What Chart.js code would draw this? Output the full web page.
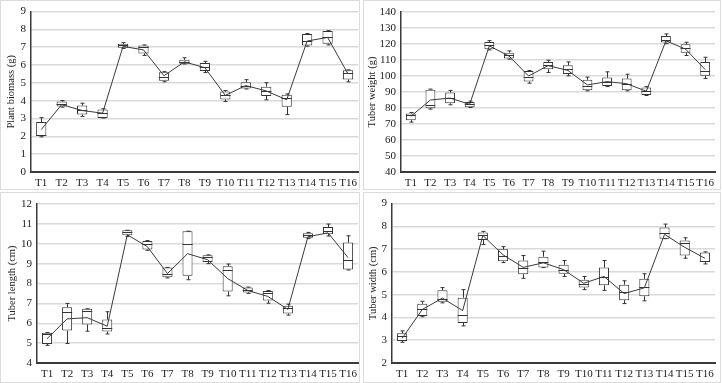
<!DOCTYPE html>
<html>
<head>
<meta charset="utf-8">
<script src="https://cdn.jsdelivr.net/npm/chart.js@4"></script>
<style>
  html, body { margin: 0; padding: 0; background: #ffffff; }
  body { width: 722px; height: 383px; position: relative; overflow: hidden; }
  .frame { position: absolute; border: 1px solid #dcdcdc; box-sizing: border-box; }
  .wrap { position: absolute; }
  canvas { display: block; }
</style>
</head>
<body>
<div class="frame" style="left:0;top:0;width:360px;height:190px"></div>
<div class="frame" style="left:363px;top:0;width:358px;height:190px"></div>
<div class="frame" style="left:0;top:192px;width:360px;height:191px"></div>
<div class="frame" style="left:363px;top:192px;width:358px;height:191px"></div>

<div class="wrap" style="left:0;top:0;width:362px;height:190px"><canvas id="c1"></canvas></div>
<div class="wrap" style="left:363px;top:0;width:359px;height:190px"><canvas id="c2"></canvas></div>
<div class="wrap" style="left:0;top:192px;width:362px;height:191px"><canvas id="c3"></canvas></div>
<div class="wrap" style="left:363px;top:192px;width:359px;height:191px"><canvas id="c4"></canvas></div>

<script>
// ---------- DATA ----------
const categories = ['T1','T2','T3','T4','T5','T6','T7','T8','T9','T10','T11','T12','T13','T14','T15','T16'];

// Plant biomass (g)
const biomassMin    = [1.97, 3.64, 3.12, 3.03, 6.93, 6.54, 5.06, 6.06, 5.58, 3.96, 4.66, 4.05, 3.22, 7.06, 7.13, 5.06];
const biomassQ1     = [2.02, 3.68, 3.22, 3.03, 6.97, 6.65, 5.12, 6.08, 5.67, 4.07, 4.69, 4.27, 3.66, 7.10, 7.19, 5.19];
const biomassMedian = [2.10, 3.80, 3.49, 3.30, 7.10, 7.00, 5.34, 6.17, 5.88, 4.33, 4.82, 4.57, 4.15, 7.37, 7.58, 5.53];
const biomassQ3     = [2.80, 3.95, 3.73, 3.51, 7.19, 7.10, 5.60, 6.30, 6.12, 4.51, 5.03, 4.79, 4.33, 7.75, 7.91, 5.71];
const biomassMax    = [3.05, 4.01, 3.86, 3.55, 7.26, 7.13, 5.63, 6.41, 6.21, 4.57, 5.18, 5.01, 4.38, 7.77, 7.93, 5.73];
const biomassMean   = [2.38, 3.78, 3.45, 3.30, 7.05, 6.85, 5.40, 6.18, 5.85, 4.30, 4.85, 4.55, 4.05, 7.35, 7.55, 5.50];

// Tuber weight (g)
const weightMin    = [71.2, 79.3, 82.0, 80.3, 116.3, 110.5, 95.5, 102.2, 100.1, 90.7, 93.4, 90.7, 87.8, 120.2, 112.8, 98.4];
const weightQ1     = [72.4, 79.9, 83.0, 80.5, 116.7, 110.9, 96.5, 104.2, 101.3, 91.1, 93.8, 91.1, 88.2, 120.9, 114.6, 100.1];
const weightMedian = [75.5, 81.8, 86.0, 82.4, 119.4, 113.2, 99.3, 106.7, 104.2, 93.8, 96.3, 95.1, 90.7, 122.5, 117.5, 103.2];
const weightQ3     = [76.6, 91.4, 89.7, 83.7, 121.3, 114.6, 103.2, 108.8, 106.7, 97.6, 99.0, 98.4, 92.8, 125.0, 119.8, 108.8];
const weightMax    = [77.2, 91.8, 91.0, 84.3, 122.1, 115.7, 103.4, 109.9, 108.8, 99.3, 102.6, 101.1, 93.4, 126.3, 121.1, 111.7];
const weightMean   = [74.8, 85.0, 86.2, 82.3, 118.8, 112.5, 100.0, 106.5, 103.5, 94.4, 96.5, 95.2, 90.5, 122.0, 116.8, 104.0];

// Tuber length (cm)
const lengthMin    = [4.89, 4.98, 5.60, 5.46, 10.36, 9.67, 8.28, 8.19, 9.00, 7.38, 7.50, 7.01, 6.41, 10.26, 10.39, 8.68];
const lengthQ1     = [4.96, 5.63, 5.94, 5.58, 10.43, 9.71, 8.31, 8.39, 9.08, 7.60, 7.55, 7.15, 6.49, 10.30, 10.48, 8.70];
const lengthMedian = [5.48, 6.58, 6.64, 5.78, 10.58, 9.98, 8.50, 9.99, 9.35, 8.68, 7.69, 7.54, 6.78, 10.45, 10.65, 9.19];
const lengthQ3     = [5.52, 6.81, 6.73, 6.19, 10.68, 10.14, 8.81, 10.63, 9.42, 8.87, 7.80, 7.62, 6.88, 10.53, 10.84, 10.06];
const lengthMax    = [5.53, 7.00, 6.73, 6.58, 10.68, 10.16, 8.81, 10.63, 9.44, 8.98, 7.82, 7.65, 6.96, 10.57, 10.99, 10.40];
const lengthMean   = [5.22, 6.22, 6.28, 5.85, 10.45, 9.85, 8.50, 9.50, 9.20, 8.25, 7.65, 7.35, 6.70, 10.35, 10.55, 9.30];

// Tuber width (cm)
const widthMin    = [2.91, 4.03, 4.64, 3.63, 7.20, 6.41, 5.72, 6.19, 5.80, 5.22, 5.19, 4.61, 4.73, 7.46, 6.60, 6.35];
const widthQ1     = [2.97, 4.06, 4.69, 3.76, 7.40, 6.47, 5.90, 6.19, 5.92, 5.32, 5.41, 4.76, 4.93, 7.46, 6.72, 6.43];
const widthMedian = [3.19, 4.37, 4.83, 4.12, 7.63, 6.72, 6.19, 6.43, 6.09, 5.48, 5.77, 5.12, 5.34, 7.70, 7.25, 6.47];
const widthQ3     = [3.31, 4.60, 5.19, 4.87, 7.73, 6.99, 6.50, 6.67, 6.31, 5.66, 6.19, 5.44, 5.70, 7.95, 7.38, 6.85];
const widthMax    = [3.41, 4.71, 5.31, 5.22, 7.78, 7.11, 6.72, 6.91, 6.50, 5.80, 6.50, 5.61, 5.92, 8.10, 7.50, 6.88];
const widthMean   = [3.08, 4.35, 4.85, 4.30, 7.60, 6.75, 6.20, 6.40, 6.10, 5.50, 5.80, 5.05, 5.30, 7.65, 7.08, 6.60];

// ---------- RENDERING ----------
const FONT = 'Liberation Serif';
const INK = '#333333';

const whiskerPlugin = {
  id: 'whiskers',
  afterDatasetDraw(chart, args) {
    if (args.index !== 0) return;
    const st = chart.config.options.plugins.whiskers;
    const meta = chart.getDatasetMeta(0);
    const ys = chart.scales.y;
    const ctx = chart.ctx;
    ctx.save();
    ctx.strokeStyle = INK;
    ctx.lineWidth = 1;
    meta.data.forEach((bar, i) => {
      const x = Math.round(bar.x) + 0.5;
      const half = bar.width / 2;
      const yMin = ys.getPixelForValue(st.min[i]);
      const yQ1 = ys.getPixelForValue(st.q1[i]);
      const yQ3 = ys.getPixelForValue(st.q3[i]);
      const yMax = ys.getPixelForValue(st.max[i]);
      const yMed = ys.getPixelForValue(st.median[i]);
      ctx.beginPath();
      ctx.moveTo(x, yQ3); ctx.lineTo(x, yMax);
      ctx.moveTo(x, yQ1); ctx.lineTo(x, yMin);
      ctx.moveTo(x - 2, yMax); ctx.lineTo(x + 2, yMax);
      ctx.moveTo(x - 2, yMin); ctx.lineTo(x + 2, yMin);
      ctx.moveTo(bar.x - half, Math.round(yMed) + 0.5); ctx.lineTo(bar.x + half, Math.round(yMed) + 0.5);
      ctx.stroke();
    });
    ctx.restore();
  }
};

function makePanel(id, title, yMin, yMax, step, mins, q1s, meds, q3s, maxs, means, geom) {
  const boxes = q1s.map((q, i) => [q, q3s[i]]);
  new Chart(document.getElementById(id), {
    data: {
      labels: categories,
      datasets: [
        {
          type: 'bar',
          data: boxes,
          backgroundColor: '#ffffff',
          borderColor: INK,
          borderWidth: 1,
          borderSkipped: false,
          barPercentage: 0.5,
          categoryPercentage: 1.0,
          order: 2
        },
        {
          type: 'line',
          data: means,
          borderColor: '#3a3a3a',
          borderWidth: 1,
          pointRadius: 0,
          tension: 0,
          order: 1
        }
      ]
    },
    options: {
      responsive: true,
      maintainAspectRatio: false,
      animation: false,
      events: [],
      layout: { padding: { top: geom.top, right: geom.right, left: 0, bottom: 0 } },
      plugins: {
        legend: { display: false },
        tooltip: { enabled: false },
        whiskers: { min: mins, q1: q1s, median: meds, q3: q3s, max: maxs }
      },
      scales: {
        x: {
          type: 'category',
          offset: true,
          grid: { display: false, drawTicks: false },
          border: { display: true, color: '#3a3a3a', width: 2 },
          ticks: { color: '#222', font: { family: FONT, size: 11 }, padding: 5, maxRotation: 0, autoSkip: false },
          afterFit(s) { s.height = geom.xh; }
        },
        y: {
          min: yMin, max: yMax,
          ticks: { stepSize: step, color: '#222', font: { family: FONT, size: 11 }, padding: 5, autoSkip: false, maxTicksLimit: 20 },
          grid: { color: '#d9d9d9', lineWidth: 1.5, drawTicks: false },
          border: { display: true, color: '#3a3a3a', width: 1.5 },
          title: { display: true, text: title, color: '#222', font: { family: FONT, size: 10.5 }, padding: { top: geom.tp, bottom: 0 } },
          afterFit(s) { s.width = geom.yw; }
        }
      }
    },
    plugins: [whiskerPlugin]
  });
}

makePanel('c1', 'Plant biomass (g)', 0, 9, 1,
  biomassMin, biomassQ1, biomassMedian, biomassQ3, biomassMax, biomassMean,
  { top: 10, right: 3, xh: 18, yw: 31, tp: 5 });
makePanel('c2', 'Tuber weight (g)', 40, 140, 10,
  weightMin, weightQ1, weightMedian, weightQ3, weightMax, weightMean,
  { top: 12, right: 7, xh: 18, yw: 38, tp: 3 });
makePanel('c3', 'Tuber length (cm)', 4, 12, 1,
  lengthMin, lengthQ1, lengthMedian, lengthQ3, lengthMax, lengthMean,
  { top: 12, right: 2, xh: 20, yw: 37, tp: 6 });
makePanel('c4', 'Tuber width (cm)', 2, 9, 1,
  widthMin, widthQ1, widthMedian, widthQ3, widthMax, widthMean,
  { top: 10, right: 7, xh: 20, yw: 29, tp: 4 });
</script>
</body>
</html>
